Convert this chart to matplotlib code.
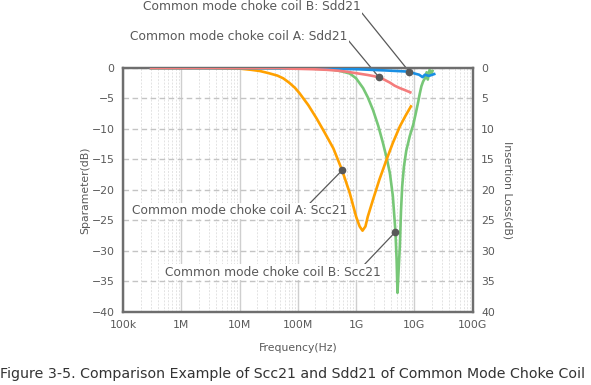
import numpy as np
import matplotlib
matplotlib.use("Agg")
import matplotlib.pyplot as plt
from matplotlib.ticker import FixedLocator, NullFormatter

# values; frequency given as log10(Hz)
# Common mode choke coil A: Scc21 (dB)
logf_a_scc = [5.48, 6.5, 7.0, 7.2, 7.35, 7.5, 7.65, 7.75, 7.85, 7.95, 8.03, 8.18, 8.32,
              8.46, 8.61, 8.76, 8.89, 9.0, 9.06, 9.11, 9.16, 9.2, 9.29, 9.4, 9.52,
              9.63, 9.75, 9.85, 9.94]
db_a_scc = [0, 0, -0.1, -0.3, -0.5, -0.85, -1.25, -1.7, -2.4, -3.25, -4.15, -6.1, -8.25,
            -10.6, -13.2, -16.8, -20.5, -24.4, -26.0, -26.7, -26.0, -24.4, -21.6, -18.3, -15.1,
            -12.3, -9.6, -7.8, -6.3]

# Common mode choke coil B: Scc21 (dB)
logf_b_scc = [5.48, 8.0, 8.4, 8.61, 8.75, 8.89, 9.0, 9.12, 9.2, 9.29, 9.38, 9.46, 9.53,
              9.58, 9.63, 9.675, 9.695, 9.71, 9.73, 9.75, 9.77, 9.79, 9.82, 9.86, 9.92,
              9.98, 10.02, 10.06, 10.09, 10.12, 10.15, 10.18, 10.21, 10.23, 10.26, 10.29, 10.31]
db_b_scc = [0, -0.05, -0.15, -0.3, -0.55, -0.9, -1.7, -3.3, -4.8, -6.9, -9.5, -12.3, -15.0,
            -17.3, -21.0, -26.9, -31.5, -36.9, -33.0, -29.3, -23.5, -19.5, -16.2, -13.6, -11.2,
            -9.3, -7.6, -5.8, -4.3, -3.0, -2.2, -1.7, -0.7, -1.9, -0.3, -1.1, -0.5]

# Sdd21 as insertion loss (dB, right axis)
logf_a_sdd = [5.48, 7.69, 7.86, 8.26, 8.5, 8.7, 8.83, 9.0, 9.2, 9.39, 9.48, 9.58, 9.66,
              9.75, 9.83, 9.93]
il_a_sdd = [0, 0, 0.1, 0.2, 0.3, 0.45, 0.6, 0.85, 1.15, 1.5, 1.9, 2.4, 2.9,
            3.3, 3.6, 4.0]

logf_b_sdd = [5.48, 8.0, 8.5, 9.0, 9.5, 9.91, 10.0, 10.08, 10.14, 10.18, 10.25, 10.31, 10.34]
il_b_sdd = [0, 0.05, 0.1, 0.2, 0.4, 0.6, 0.9, 1.1, 1.5, 1.1, 1.3, 1.1, 1.0]

x_ticks = [1e5, 1e6, 1e7, 1e8, 1e9, 1e10, 1e11]
x_labels = ['100k', '1M', '10M', '100M', '1G', '10G', '100G']
y_ticks = list(range(-40, 1, 5))

text_c = '#595959'
plt.rcParams['font.family'] = ['DejaVu Sans']

fig = plt.figure(figsize=(5.91, 3.85), dpi=100)
ax = fig.add_axes([0.2081, 0.1904, 0.5917, 0.633])
ax2 = ax.twinx()

ax.set_xscale('log')
ax.set_xlim(1e5, 1e11)
ax.set_ylim(-40, 0)
ax2.set_ylim(40, 0)

# grid: solid at decades, dashed minor, dashed horizontal
ax.xaxis.set_major_locator(FixedLocator(x_ticks))
ax.set_xticklabels(x_labels)
minor = [m * d for d in x_ticks[:-1] for m in range(2, 10)]
ax.xaxis.set_minor_locator(FixedLocator(minor))
ax.xaxis.set_minor_formatter(NullFormatter())
ax.set_yticks(y_ticks)
ax2.set_yticks([-v for v in y_ticks])
ax2.set_yticklabels([str(-v) for v in y_ticks])

ax.grid(True, which='major', axis='x', color='#cfcfcf', lw=1.0, ls='-')
ax.grid(True, which='minor', axis='x', color='#e3e3e3', lw=0.7, ls=(0, (2, 1.5)))
ax.grid(True, which='major', axis='y', color='#c4c4c4', lw=1.0, ls=(0, (4, 2.5)))
ax.set_axisbelow(True)

for a in (ax, ax2):
    for s in a.spines.values():
        s.set_color('#6e6e6e')
        s.set_linewidth(1.6)
    a.tick_params(which='both', length=0, labelsize=7.8, colors=text_c, pad=6)

f_a_scc = 10 ** np.array(logf_a_scc)
f_b_scc = 10 ** np.array(logf_b_scc)
f_a_sdd = 10 ** np.array(logf_a_sdd)
f_b_sdd = 10 ** np.array(logf_b_sdd)

# curves
ax.plot(f_b_scc, db_b_scc, color='#77c777', lw=1.9, zorder=3, solid_joinstyle='round')
ax.plot(f_a_scc, db_a_scc, color='#ffa100', lw=1.9, zorder=3, solid_joinstyle='round')
ax2.plot(f_b_sdd, il_b_sdd, color='#1a8fe3', lw=1.9, zorder=3, solid_joinstyle='round')
ax2.plot(f_a_sdd, il_a_sdd, color='#f47c7c', lw=1.9, zorder=3, solid_joinstyle='round')

ax.set_xlabel('Frequency(Hz)', color=text_c, fontsize=7.8, labelpad=9)
ax.set_ylabel('Sparameter(dB)', color=text_c, fontsize=7.8, labelpad=1)
ax2.set_ylabel('Insertion Loss(dB)', color=text_c, fontsize=7.8, rotation=-90, labelpad=13)

# leader labels (text box sits under the curves)
dot_kw = dict(marker='o', ms=4.5, color='#595959', zorder=6, clip_on=False)
ann = [
    (ax2, f_b_sdd[5], il_b_sdd[5], 'Common mode choke coil B: Sdd21', (143, 378), (1.0, 0.15)),
    (ax2, f_a_sdd[9], il_a_sdd[9], 'Common mode choke coil A: Sdd21', (130, 349), (1.0, 0.25)),
    (ax, f_a_scc[15], db_a_scc[15], 'Common mode choke coil A: Scc21', (132, 174), (0.82, 1.0)),
    (ax, f_b_scc[15], db_b_scc[15], 'Common mode choke coil B: Scc21', (165, 113), (0.92, 1.0)),
]
for a, fx, fy, label, pos, rp in ann:
    a.plot([fx], [fy], **dot_kw)
    a.annotate(label, xy=(fx, fy), xytext=pos, textcoords='figure pixels',
               ha='left', va='center', fontsize=8.8, color=text_c, zorder=2.5,
               bbox=dict(boxstyle='square,pad=0.1', fc='white', ec='none'),
               arrowprops=dict(arrowstyle='-', color='#595959', lw=0.9,
                               relpos=rp, shrinkA=0, shrinkB=0))

fig.text(0.0, 11 / 385, 'Figure 3-5. Comparison Example of Scc21 and Sdd21 of Common Mode Choke Coil',
         ha='left', va='center', fontsize=10.2, color='#333333')

fig.savefig('out.png', dpi=100)
